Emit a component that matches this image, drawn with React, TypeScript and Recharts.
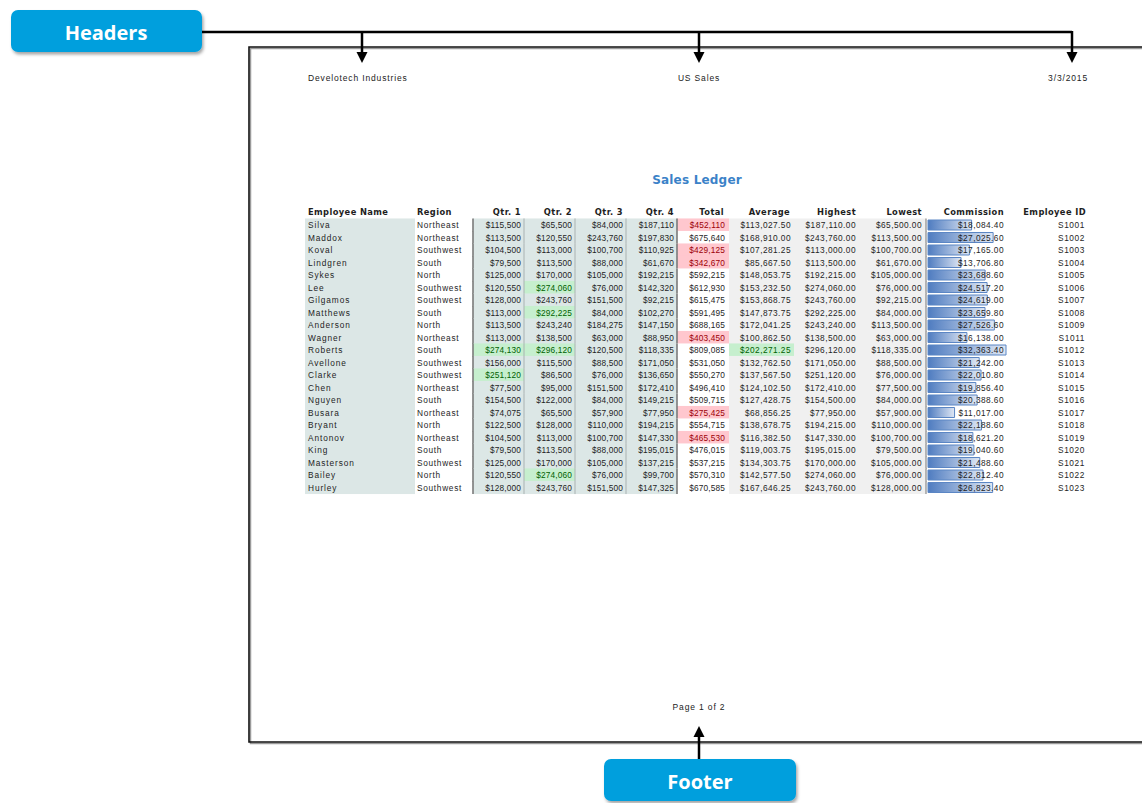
import React from 'react';
import { BarChart, Bar, XAxis, YAxis, LabelList } from 'recharts';

const names = ['Silva', 'Maddox', 'Koval', 'Lindgren', 'Sykes', 'Lee', 'Gilgamos', 'Matthews', 'Anderson', 'Wagner', 'Roberts', 'Avellone', 'Clarke', 'Chen', 'Nguyen', 'Busara', 'Bryant', 'Antonov', 'King', 'Masterson', 'Bailey', 'Hurley'];
const regions = ['Northeast', 'Northeast', 'Southwest', 'South', 'North', 'Southwest', 'Southwest', 'South', 'North', 'Northeast', 'South', 'Southwest', 'Southwest', 'Northeast', 'South', 'Northeast', 'North', 'Northeast', 'South', 'Southwest', 'North', 'Southwest'];
const qtr1 = [115500, 113500, 104500, 79500, 125000, 120550, 128000, 113000, 113500, 113000, 274130, 156000, 251120, 77500, 154500, 74075, 122500, 104500, 79500, 125000, 120550, 128000];
const qtr2 = [65500, 120550, 113000, 113500, 170000, 274060, 243760, 292225, 243240, 138500, 296120, 115500, 86500, 95000, 122000, 65500, 128000, 113000, 113500, 170000, 274060, 243760];
const qtr3 = [84000, 243760, 100700, 88000, 105000, 76000, 151500, 84000, 184275, 63000, 120500, 88500, 76000, 151500, 84000, 57900, 110000, 100700, 88000, 105000, 76000, 151500];
const qtr4 = [187110, 197830, 110925, 61670, 192215, 142320, 92215, 102270, 147150, 88950, 118335, 171050, 136650, 172410, 149215, 77950, 194215, 147330, 195015, 137215, 99700, 147325];
const totals = [452110, 675640, 429125, 342670, 592215, 612930, 615475, 591495, 688165, 403450, 809085, 531050, 550270, 496410, 509715, 275425, 554715, 465530, 476015, 537215, 570310, 670585];
const averages = [113027.5, 168910.0, 107281.25, 85667.5, 148053.75, 153232.5, 153868.75, 147873.75, 172041.25, 100862.5, 202271.25, 132762.5, 137567.5, 124102.5, 127428.75, 68856.25, 138678.75, 116382.5, 119003.75, 134303.75, 142577.5, 167646.25];
const highest = [187110, 243760, 113000, 113500, 192215, 274060, 243760, 292225, 243240, 138500, 296120, 171050, 251120, 172410, 154500, 77950, 194215, 147330, 195015, 170000, 274060, 243760];
const lowest = [65500, 113500, 100700, 61670, 105000, 76000, 92215, 84000, 113500, 63000, 118335, 88500, 76000, 77500, 84000, 57900, 110000, 100700, 79500, 105000, 76000, 128000];
const commission = [18084.4, 27025.6, 17165.0, 13706.8, 23688.6, 24517.2, 24619.0, 23659.8, 27526.6, 16138.0, 32363.4, 21242.0, 22010.8, 19856.4, 20388.6, 11017.0, 22188.6, 18621.2, 19040.6, 21488.6, 22812.4, 26823.4];
const ids = ['S1001', 'S1002', 'S1003', 'S1004', 'S1005', 'S1006', 'S1007', 'S1008', 'S1009', 'S1011', 'S1012', 'S1013', 'S1014', 'S1015', 'S1016', 'S1017', 'S1018', 'S1019', 'S1020', 'S1021', 'S1022', 'S1023'];

const headerLabels = ['Employee Name', 'Region', 'Qtr. 1', 'Qtr. 2', 'Qtr. 3', 'Qtr. 4', 'Total', 'Average', 'Highest', 'Lowest', 'Commission', 'Employee ID'];

const rows = names.map((name, i) => ({
  name,
  region: regions[i],
  q1: qtr1[i],
  q2: qtr2[i],
  q3: qtr3[i],
  q4: qtr4[i],
  total: totals[i],
  average: averages[i],
  highest: highest[i],
  lowest: lowest[i],
  commission: commission[i],
  id: ids[i],
}));

const ROW_H = 12.5;
const FONT = '"Liberation Sans", Arial, sans-serif';
const TXT = '#1e1e1e';
const BLUEGRAY = '#dce7e6';
const GRAY = '#f0f0f0';
const GOOD_BG = '#c6efce';
const GOOD_TX = '#006100';
const BAD_BG = '#ffc7ce';
const BAD_TX = '#9c0006';

const money0 = (v: number) => '$' + v.toLocaleString('en-US', { maximumFractionDigits: 0 });
const money2 = (v: number) => '$' + v.toLocaleString('en-US', { minimumFractionDigits: 2, maximumFractionDigits: 2 });

const qCols = [
  { key: 'q1', x0: 473, x1: 524, tx: 521 },
  { key: 'q2', x0: 524, x1: 575, tx: 572 },
  { key: 'q3', x0: 575, x1: 626, tx: 623 },
  { key: 'q4', x0: 626, x1: 677, tx: 674 },
];

const RowContent = (props: any) => {
  const { y, height, value } = props;
  const idx = names.indexOf(value);
  const r: any = rows[idx];
  if (!r) return null;
  const cy = y + height / 2;
  const top = cy - ROW_H / 2 - 0.3;
  const h = ROW_H + 0.6;
  const fs = 8.3;
  const t = (x: number, s: string, anchor: string, fill = TXT, ls = 0.35) => (
    <text x={x} y={cy} textAnchor={anchor as any} dominantBaseline="central" fontSize={fs} fontFamily={FONT} fill={fill} letterSpacing={ls}>{s}</text>
  );
  const totalBad = r.total < 470000;
  const avgGood = r.average > 200000;
  return (
    <g>
      <rect x={305} y={top} width={110} height={h} fill={BLUEGRAY} />
      {qCols.map((c) => (
        <rect key={c.key} x={c.x0} y={top} width={c.x1 - c.x0} height={h} fill={r[c.key] > 250000 ? GOOD_BG : BLUEGRAY} />
      ))}
      <rect x={677} y={top} width={52} height={h} fill={totalBad ? BAD_BG : '#ffffff'} />
      <rect x={729} y={top} width={65} height={h} fill={avgGood ? GOOD_BG : GRAY} />
      <rect x={794} y={top} width={132} height={h} fill={GRAY} />
      <line x1={473} x2={473} y1={top} y2={top + h} stroke="#7a7a7a" strokeWidth={1.6} />
      <line x1={524} x2={524} y1={top} y2={top + h} stroke="#a9b2b2" strokeWidth={1} />
      <line x1={575} x2={575} y1={top} y2={top + h} stroke="#a9b2b2" strokeWidth={1} />
      <line x1={626} x2={626} y1={top} y2={top + h} stroke="#a9b2b2" strokeWidth={1} />
      <line x1={677} x2={677} y1={top} y2={top + h} stroke="#7a7a7a" strokeWidth={1.6} />
      <line x1={926} x2={926} y1={top} y2={top + h} stroke="#8a8a8a" strokeWidth={1.2} />
      {t(308, r.name, 'start', TXT, 0.9)}
      {t(417, r.region, 'start', TXT, 0.7)}
      {qCols.map((c) => (
        <g key={'t' + c.key}>{t(c.tx, money0(r[c.key]), 'end', r[c.key] > 250000 ? GOOD_TX : TXT, 0.15)}</g>
      ))}
      {t(725, money0(r.total), 'end', totalBad ? BAD_TX : TXT, 0.15)}
      {t(791, money2(r.average), 'end', avgGood ? GOOD_TX : TXT, 0.45)}
      {t(856, money2(r.highest), 'end', TXT, 0.45)}
      {t(922, money2(r.lowest), 'end', TXT, 0.45)}
      {t(1085, r.id, 'end', TXT, 0.6)}
    </g>
  );
};

const CommissionLabel = (props: any) => {
  const { y, height, value } = props;
  return (
    <text x={1004} y={y + height / 2} textAnchor="end" dominantBaseline="central" fontSize={8.3} fontFamily={FONT} fill={TXT} letterSpacing={0.45}>
      {money2(value)}
    </text>
  );
};

const headerPos: [number, string][] = [
  [308, 'start'], [417, 'start'], [521, 'end'], [572, 'end'], [623, 'end'], [674, 'end'],
  [724, 'end'], [790, 'end'], [856, 'end'], [922, 'end'], [1004, 'end'], [1086, 'end'],
];

const PH = { fontSize: 8.5, letterSpacing: 0.85, fontFamily: FONT, fill: '#222' } as any;

const Decoration = () => (
  <svg width={1142} height={803} style={{ position: 'absolute', left: 0, top: 0 }}>
    <defs>
      <filter id="sh" x="-10%" y="-20%" width="130%" height="160%">
        <feDropShadow dx="1.5" dy="2.5" stdDeviation="1.5" floodColor="#000" floodOpacity="0.35" />
      </filter>
    </defs>
    <path d="M1142,48.5 H250.5 V743.5 H1142" fill="none" stroke="#9a9a9a" strokeWidth={1.5} />
    <path d="M1142,47 H249 V742 H1142" fill="none" stroke="#111" strokeWidth={1.6} />
    <rect x={11} y={10} width={191} height={42} rx={7} fill="#009fdd" filter="url(#sh)" />
    <text x={106} y={32} textAnchor="middle" dominantBaseline="central" fontSize={20} fontWeight="bold" fontFamily='"Open Sans", "Noto Sans", sans-serif' fill="#fff">Headers</text>
    <path d="M202,32 H1072" stroke="#000" strokeWidth={2.5} fill="none" />
    {[362, 699, 1072].map((x) => (
      <g key={x}>
        <line x1={x} x2={x} y1={31} y2={54} stroke="#000" strokeWidth={2.5} />
        <polygon points={`${x - 5.5},52 ${x + 5.5},52 ${x},63`} fill="#000" />
      </g>
    ))}
    <rect x={604} y={759} width={192} height={42} rx={7} fill="#009fdd" filter="url(#sh)" />
    <text x={700} y={781} textAnchor="middle" dominantBaseline="central" fontSize={20} fontWeight="bold" fontFamily='"Open Sans", "Noto Sans", sans-serif' fill="#fff">Footer</text>
    <line x1={699} x2={699} y1={759} y2={735} stroke="#000" strokeWidth={2.5} />
    <polygon points="693.5,737 704.5,737 699,726" fill="#000" />
    <text x={308} y={78} dominantBaseline="central" {...PH}>Develotech Industries</text>
    <text x={699} y={78} textAnchor="middle" dominantBaseline="central" {...PH}>US Sales</text>
    <text x={1088} y={78} textAnchor="end" dominantBaseline="central" {...PH}>3/3/2015</text>
    <text x={699} y={707} textAnchor="middle" dominantBaseline="central" {...PH}>Page 1 of 2</text>
    <text x={697} y={180} textAnchor="middle" dominantBaseline="central" fontSize={12} fontWeight="bold" letterSpacing={0.2} fontFamily='"DejaVu Sans", sans-serif' fill="#3b82c8">Sales Ledger</text>
    {headerLabels.map((h, i) => (
      <text key={h} x={headerPos[i][0]} y={212} textAnchor={headerPos[i][1] as any} dominantBaseline="central" fontSize={8.3} fontWeight="bold" letterSpacing={0.4} fontFamily='"DejaVu Sans", sans-serif' fill="#1e1e1e">{h}</text>
    ))}
  </svg>
);

export default function App() {
  return (
    <div style={{ position: 'absolute', left: 0, top: 0, width: 1142, height: 803, background: '#fff' }}>
      <Decoration />
      <div style={{ position: 'absolute', left: 0, top: 0 }}>
        <BarChart
          width={1142}
          height={803}
          data={rows}
          layout="vertical"
          margin={{ top: 219, bottom: 803 - 494, left: 928, right: 1142 - 1006 }}
        >
          <defs>
            <linearGradient id="dbGrad" x1="0" y1="0" x2="1" y2="0">
              <stop offset="0%" stopColor="#4f7cc0" />
              <stop offset="100%" stopColor="#dfe7f4" />
            </linearGradient>
          </defs>
          <XAxis type="number" hide domain={[0, 'dataMax']} />
          <YAxis type="category" dataKey="name" hide />
          <Bar dataKey="commission" barSize={10} fill="url(#dbGrad)" stroke="#5b86c4" strokeWidth={1} isAnimationActive={false}>
            <LabelList dataKey="name" content={RowContent} />
            <LabelList dataKey="commission" content={CommissionLabel} />
          </Bar>
        </BarChart>
      </div>
    </div>
  );
}
